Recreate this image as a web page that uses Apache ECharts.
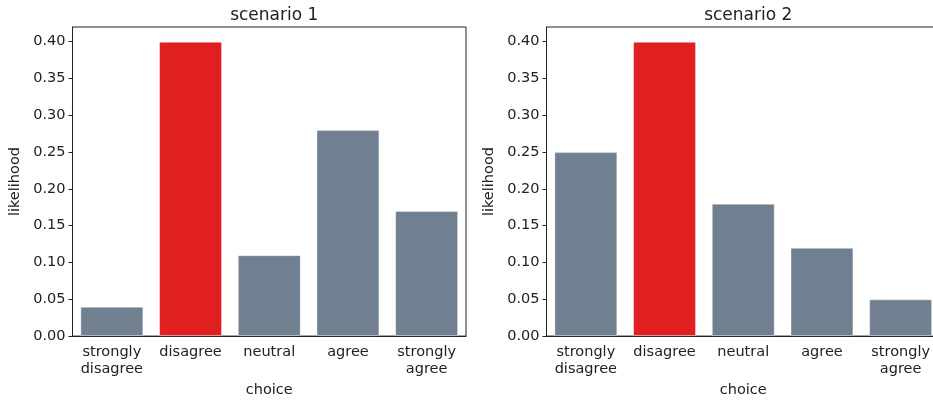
<!DOCTYPE html>
<html>
<head>
<meta charset="utf-8">
<script src="https://cdn.jsdelivr.net/npm/echarts@6/dist/echarts.min.js"></script>
<style>
  html, body { margin: 0; padding: 0; background: #fff; overflow: hidden; }
  /* the right panel runs past the edge of the picture, so the canvas is a bit wider */
  #chart { width: 941px; height: 403px; }
</style>
</head>
<body>
<div id="chart"></div>
<script>
var choices = ['strongly\ndisagree', 'disagree', 'neutral', 'agree', 'strongly\nagree'];
var scenario1 = [0.04, 0.40, 0.11, 0.28, 0.17];
var scenario2 = [0.25, 0.40, 0.18, 0.12, 0.05];
var yTicks = [0, 0.05, 0.10, 0.15, 0.20, 0.25, 0.30, 0.35, 0.40];
var titles = ['scenario 1', 'scenario 2'];

var mychart = echarts.init(document.getElementById('chart'));

var font = 'DejaVu Sans';
var textColor = '#222';
var fs = 14.5;

function colorBars(values) {
    // the "disagree" bar is highlighted in red
    return values.map(function (v, i) {
        return {
            value: v,
            itemStyle: { color: i === 1 ? '#e02020' : '#708090' }
        };
    });
}

var lefts = [72.5, 546.5];
var plotW = 393.5;

var option = {
    animation: false,
    textStyle: { fontFamily: font },
    title: titles.map(function (t, i) {
        return {
            text: t,
            left: lefts[i] + plotW / 2,
            textAlign: 'center',
            top: 2,
            textStyle: { fontFamily: font, fontSize: 17, fontWeight: 'normal', color: textColor }
        };
    }),
    grid: lefts.map(function (l) {
        return {
            left: l, top: 27, width: plotW, height: 309.5,
            show: true, borderColor: '#222', borderWidth: 1, backgroundColor: 'transparent'
        };
    }),
    xAxis: [0, 1].map(function (i) {
        return {
            type: 'category',
            gridIndex: i,
            data: choices,
            name: 'choice',
            nameLocation: 'middle',
            nameGap: 46,
            nameTextStyle: { fontFamily: font, fontSize: fs, color: textColor },
            axisLine: { lineStyle: { color: '#222', width: 1 } },
            axisTick: { alignWithLabel: true, length: 4, lineStyle: { color: '#222' } },
            axisLabel: { fontFamily: font, fontSize: fs, color: textColor, margin: 8, lineHeight: 17, interval: 0 }
        };
    }),
    yAxis: [0, 1].map(function (i) {
        return {
            type: 'value',
            gridIndex: i,
            min: 0,
            max: 0.42,
            name: 'likelihood',
            nameLocation: 'middle',
            nameGap: 50,
            nameTextStyle: { fontFamily: font, fontSize: fs, color: textColor },
            splitLine: { show: false },
            axisLine: { show: true, lineStyle: { color: '#222', width: 1 } },
            axisTick: { show: true, length: 4, customValues: yTicks, lineStyle: { color: '#222' } },
            axisLabel: {
                fontFamily: font, fontSize: fs, color: textColor, margin: 7,
                customValues: yTicks,
                formatter: function (v) { return v.toFixed(2); }
            }
        };
    }),
    series: [scenario1, scenario2].map(function (vals, i) {
        return {
            type: 'bar',
            xAxisIndex: i,
            yAxisIndex: i,
            barCategoryGap: '20%',
            data: colorBars(vals),
            itemStyle: { borderColor: 'rgba(255,255,255,0.4)', borderWidth: 1 }
        };
    })
};

mychart.setOption(option);
</script>
</body>
</html>
